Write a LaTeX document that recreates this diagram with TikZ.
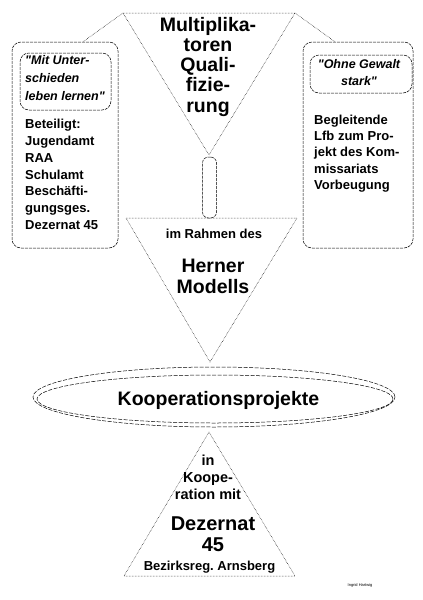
\documentclass[tikz,border=0pt]{standalone}
\usepackage{fontspec}
\setmainfont{Liberation Sans}
\frenchspacing
\usetikzlibrary{shapes.geometric}
\tikzset{
  box/.style = {
    rectangle, rounded corners=9pt,
    draw=black, line width=0.5pt, dash pattern=on 3pt off 1pt,
    inner sep=0pt
  },
  tri/.style = {draw=black, line width=0.5pt, densely dotted},
  ring/.style = {
    ellipse, draw=black, line width=0.5pt, dash pattern=on 4pt off 1.5pt,
    inner sep=0pt
  },
  % anchor=base sits on the last line
  bigtxt/.style = {
    font=\fontsize{19.5}{#1}\selectfont\bfseries, align=center,
    inner sep=0pt, anchor=base
  },
  bigtxt/.default = 20.25pt,
  midtxt/.style = {
    font=\fontsize{13}{#1}\selectfont\bfseries, align=left,
    inner sep=0pt, anchor=base west
  },
  midtxt/.default = 16.8pt,
  quotetxt/.style = {
    font=\fontsize{12.5}{#1}\selectfont\bfseries\itshape, inner sep=0pt
  },
  quotetxt/.default = 18pt,
}

\begin{document}
\begin{tikzpicture}[x=1pt, y=-1pt]
  \useasboundingbox[fill=white] (0,0) rectangle (423,600);

  % Multiplikatoren funnel (top)
  \coordinate (mq-nw) at (123,13);
  \coordinate (mq-ne) at (295,13);
  \coordinate (mq-s)  at (209,155);
  \draw[tri] (mq-nw) -- (mq-ne) -- (mq-s) -- cycle;
  \node[bigtxt] (mq) at (208,112)
    {Multiplika-\\toren\\Quali-\\fizie-\\rung};

  % Left box
  \node[box, minimum width=106pt, minimum height=206pt] (lbox) at (65,145) {};
  \node[box, minimum width=91pt, minimum height=57pt] (lquote) at (65.5,81.5) {};
  \node[quotetxt, align=left, anchor=base west] (lquotetxt) at (25,100)
    {\textquotedbl Mit Unter-\\schieden\\leben lernen\textquotedbl};
  \node[midtxt] (ltxt) at (25,229.5)
    {Beteiligt:\\Jugendamt\\RAA\\Schulamt\\Besch\"afti-\\gungsges.\\Dezernat 45};

  % Right box
  \node[box, minimum width=110pt, minimum height=206pt] (rbox) at (358,145) {};
  \node[box, minimum width=102pt, minimum height=38pt] (rquote) at (361,74) {};
  \node[quotetxt=16.7pt, align=center, anchor=base] (rquotetxt) at (359,85)
    {\textquotedbl Ohne Gewalt\\stark\textquotedbl};
  \node[midtxt=16.3pt] (rtxt) at (314,189.3)
    {Begleitende\\Lfb zum Pro-\\jekt des Kom-\\missariats\\Vorbeugung};

  % Connectors to the boxes
  \draw[tri] (mq-nw) -- ([xshift=18pt]lbox.north);
  \draw[tri] (mq-ne) -- ([xshift=-23pt]rbox.north);

  % Tube between the funnels
  \node[box, rounded corners=6pt, minimum width=14pt, minimum height=61pt]
    (tube) at (209.5,187.5) {};

  % Herner Modell funnel
  \coordinate (hm-nw) at (126,218);
  \coordinate (hm-ne) at (297,218);
  \coordinate (hm-s)  at (210,362);
  \draw[tri] (hm-nw) -- (hm-ne) -- (hm-s) -- cycle;
  \node[midtxt, anchor=base] (rahmen) at (214,238) {im Rahmen des};
  \node[bigtxt=21pt] (herner) at (213,293) {Herner\\Modells};

  % Kooperationsprojekte
  \node[ring, minimum width=362pt, minimum height=60pt] (koop) at (214,397) {};
  \node[ring, minimum width=356pt, minimum height=48pt] (koopin) at (215,399) {};
  \node[bigtxt] (kooptxt) at (218.5,405) {Kooperationsprojekte};

  % Dezernat 45 pyramid
  \coordinate (dz-n)  at (209,432);
  \coordinate (dz-sw) at (124,576);
  \coordinate (dz-se) at (295,576);
  \draw[tri] (dz-n) -- (dz-se) -- (dz-sw) -- cycle;
  \node[font=\fontsize{14.5}{16.7}\selectfont\bfseries, align=center,
        inner sep=0pt, anchor=base] (koopmit) at (208,499.3)
    {in\\Koope-\\ration mit};
  \node[bigtxt=21pt, font=\fontsize{20}{21}\selectfont\bfseries]
    (dez) at (213,551.7) {Dezernat\\45};
  \node[midtxt, anchor=base] (bezreg) at (209.5,570) {Bezirksreg. Arnsberg};

  % Signature
  \node[font=\fontsize{4}{5}\selectfont, inner sep=0pt] (sig) at (360,585)
    {Ingrid Hartwig};
\end{tikzpicture}
\end{document}
